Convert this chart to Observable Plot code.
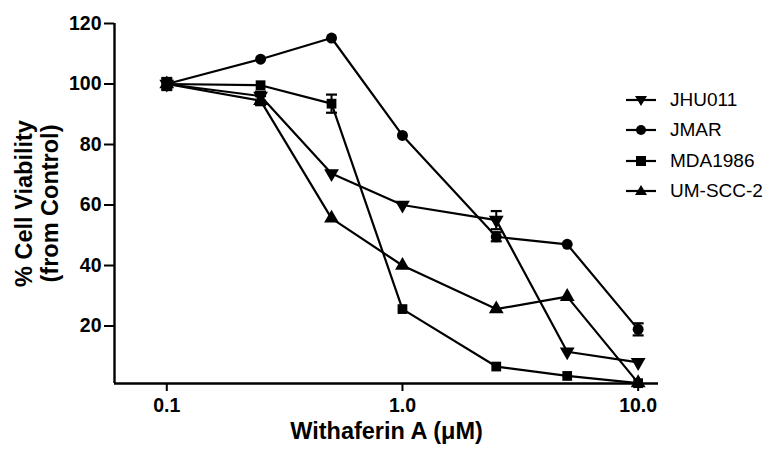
<!DOCTYPE html>
<html>
<head>
<meta charset="utf-8">
<script src="https://cdn.jsdelivr.net/npm/d3@7"></script>
<script src="https://cdn.jsdelivr.net/npm/@observablehq/plot@0.6"></script>
<style>
  body { margin: 0; background: #fff; }
  #wrap { position: relative; width: 777px; height: 453px; font-family: "Liberation Sans", Arial, sans-serif; }
  #legend { position: absolute; left: 626px; top: 85px; font-size: 19px; color: #000; }
  #legend .row { display: flex; align-items: center; height: 30.3px; }
  #legend svg { margin-right: 14px; }
</style>
</head>
<body>
<div id="wrap"><div id="legend"></div></div>
<script>
const doses = [0.1, 0.25, 0.5, 1.0, 2.5, 5, 10];
const seriesNames = ["JHU011", "JMAR", "MDA1986", "UM-SCC-2"];
const jhu011 = [100, 96, 70.4, 60, 55, 11.5, 8];
const jmar = [100, 108.2, 115.2, 83, 49.5, 47, 18.9];
const mda1986 = [100, 99.6, 93.5, 25.6, 6.6, 3.5, 1.1];
const umscc2 = [100, 94.5, 55.6, 40, 25.6, 29.7, 1.2];
const jhu011Err = [1.5, 1.5, 0, 0, 3, 0, 0];
const jmarErr = [0, 0, 0, 0, 1.5, 0, 2];
const mda1986Err = [2, 0, 3, 0, 0, 0, 0];
const umscc2Err = [0, 1.5, 0, 0, 0, 0, 0];
const xTicks = [0.1, 1, 10];
const yTicks = [20, 40, 60, 80, 100, 120];
const xDomain = [0.06, 12.2];
const yDomain = [1, 120];

const values = [jhu011, jmar, mda1986, umscc2];
const errs = [jhu011Err, jmarErr, mda1986Err, umscc2Err];
const symbols = ["triangle", "circle", "square", "triangle"];
const rotations = [180, 0, 0, 0];

const data = [];
seriesNames.forEach((s, i) => doses.forEach((d, j) => data.push({series: s, dose: d, v: values[i][j], err: errs[i][j], sym: symbols[i], rot: rotations[i]})));
const errData = data.filter(d => d.err > 0);

const capSymbol = { draw(ctx, size) { const w = 5.5; ctx.moveTo(-w, 0); ctx.lineTo(w, 0); } };

const font = '"Liberation Sans", Arial, sans-serif';
const chart = Plot.plot({
  width: 777,
  height: 453,
  marginLeft: 114,
  marginRight: 119,
  marginTop: 23,
  marginBottom: 70,
  style: { fontFamily: font, background: "#fff", color: "#000" },
  x: { type: "log", domain: xDomain },
  y: { domain: yDomain },
  marks: [
    Plot.ruleX([xDomain[0]], { stroke: "#000", strokeWidth: 2.4, y1: yDomain[0], y2: yDomain[1] }),
    Plot.ruleY([yDomain[0]], { stroke: "#000", strokeWidth: 2.4 }),
    Plot.axisY({ ticks: yTicks, tickSize: 10, tickPadding: 3, fontSize: 19.5, fontWeight: "bold", strokeWidth: 2, label: null }),
    Plot.axisX({ ticks: xTicks, tickSize: 8, tickPadding: 7, fontSize: 19.5, fontWeight: "bold", strokeWidth: 2, tickFormat: d3.format(".1f"), label: null }),
    Plot.ruleX(errData, { x: "dose", y1: d => d.v - d.err, y2: d => d.v + d.err, stroke: "#000", strokeWidth: 2 }),
    Plot.dot(errData, { x: "dose", y: d => d.v + d.err, symbol: capSymbol, stroke: "#000", strokeWidth: 2.2, fill: "none" }),
    Plot.dot(errData, { x: "dose", y: d => d.v - d.err, symbol: capSymbol, stroke: "#000", strokeWidth: 2.2, fill: "none" }),
    Plot.line(data, { x: "dose", y: "v", z: "series", stroke: "#000", strokeWidth: 2.2 }),
    Plot.dot(data, { x: "dose", y: "v", symbol: "sym", rotate: "rot", r: 5.5, fill: "#000", stroke: "none" }),
    Plot.text(["% Cell Viability\n(from Control)"], { frameAnchor: "left", textAnchor: "middle", lineAnchor: "middle", dx: -78, rotate: -90, fontSize: 23.5, fontWeight: "bold", lineHeight: 1.1, fill: "#000" }),
    Plot.text(["Withaferin A (\u03bcM)"], { frameAnchor: "bottom", textAnchor: "middle", lineAnchor: "middle", dy: 48, fontSize: 23.5, fontWeight: "bold", fill: "#000" })
  ]
});
chart.style.position = "absolute";
chart.style.left = "0";
chart.style.top = "0";
const wrap = document.getElementById("wrap");
wrap.insertBefore(chart, wrap.firstChild);

const legend = document.getElementById("legend");
const legendPaths = {
  circle: '<circle cx="15" cy="10" r="5" fill="#000"/>',
  square: '<rect x="10" y="5" width="10" height="10" fill="#000"/>',
  up: '<path d="M15,4 L21,14 L9,14 Z" fill="#000"/>',
  down: '<path d="M15,16 L21,6 L9,6 Z" fill="#000"/>'
};
const legendShapes = ["down", "circle", "square", "up"];
seriesNames.forEach((s, i) => {
  const row = document.createElement("div");
  row.className = "row";
  row.innerHTML = `<svg width="30" height="20"><line x1="0" x2="30" y1="10" y2="10" stroke="#000" stroke-width="2.2"/>${legendPaths[legendShapes[i]]}</svg><span>${s}</span>`;
  legend.appendChild(row);
});
</script>
</body>
</html>
